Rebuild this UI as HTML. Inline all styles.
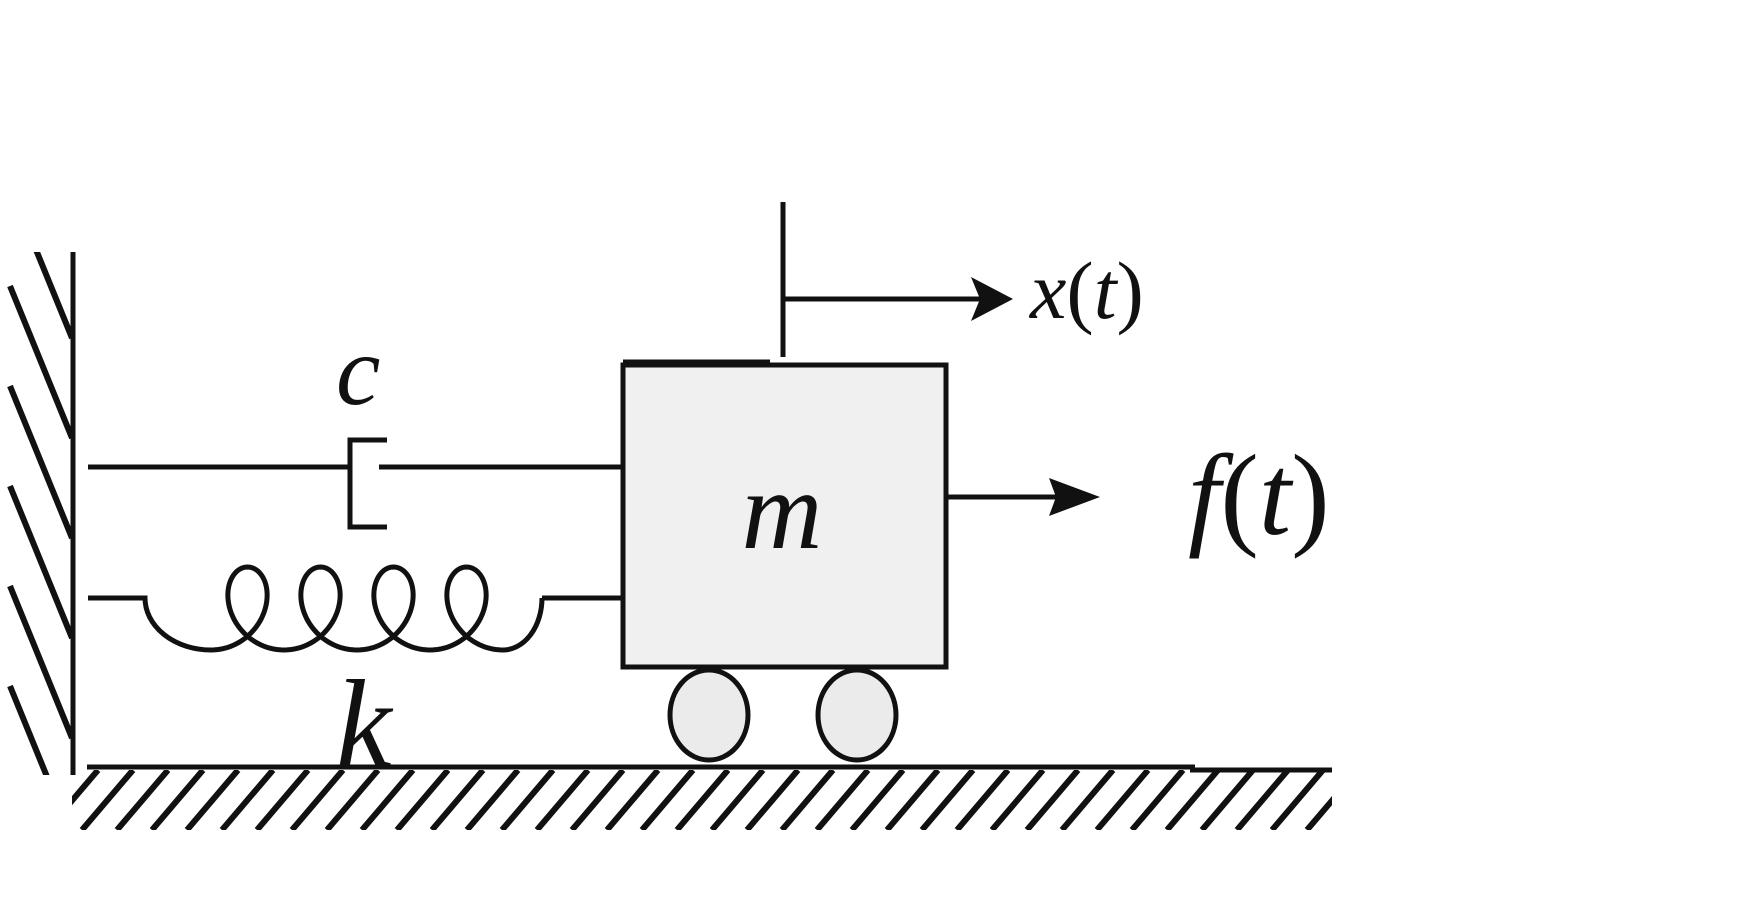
<!DOCTYPE html>
<html><head><meta charset="utf-8"><style>
html,body{margin:0;padding:0;background:#fff;}
svg{display:block}
text{font-family:"Liberation Serif",serif;font-style:italic;fill:#111}
tspan.n{font-style:normal}
</style></head><body>
<svg id="s" width="1760" height="903" viewBox="0 0 1760 903" xmlns="http://www.w3.org/2000/svg">
<defs>
<clipPath id="wc"><rect x="0" y="252" width="72" height="523"/></clipPath>
<clipPath id="gc"><rect x="72" y="770" width="1260" height="60"/></clipPath>
</defs>
<g stroke="#111" stroke-width="6" clip-path="url(#wc)" id="wall"></g>
<line x1="73" y1="252" x2="73" y2="775" stroke="#111" stroke-width="5"/>
<g stroke="#111" stroke-width="6" clip-path="url(#gc)" id="ground"></g>
<line x1="87" y1="767" x2="1195" y2="767" stroke="#111" stroke-width="5"/>
<line x1="1190" y1="770" x2="1332" y2="770" stroke="#111" stroke-width="5"/>
<g stroke="#111" stroke-width="5" fill="none">
<line x1="88" y1="467" x2="350" y2="467"/>
<polyline points="387,440 350,440 350,527 387,527"/>
<line x1="379" y1="467" x2="623" y2="467"/>
<path id="spring" stroke-width="5"/>
<line x1="542" y1="598" x2="623" y2="598"/>
</g>
<rect x="623" y="365" width="323" height="302" fill="#f0f0f0" stroke="#111" stroke-width="5"/>
<line x1="623" y1="362" x2="770" y2="362" stroke="#111" stroke-width="5"/>
<ellipse cx="709" cy="715" rx="39" ry="45" fill="#ebebeb" stroke="#111" stroke-width="5"/>
<ellipse cx="857" cy="715" rx="39" ry="45" fill="#ebebeb" stroke="#111" stroke-width="5"/>
<line x1="783" y1="202" x2="783" y2="357" stroke="#111" stroke-width="5"/>
<line x1="783" y1="299" x2="980" y2="299" stroke="#111" stroke-width="5"/>
<polygon points="971,277 1013,299 971,321 980,299" fill="#111"/>
<line x1="946" y1="497" x2="1060" y2="497" stroke="#111" stroke-width="5"/>
<polygon points="1049,478 1100,497 1049,516 1056,497" fill="#111"/>
<text x="1030" y="318" font-size="82">x<tspan class="n">(</tspan>t<tspan class="n">)</tspan></text>
<text x="1188" y="534" font-size="116">f<tspan class="n">(</tspan>t<tspan class="n">)</tspan></text>
<text x="336" y="404" font-size="100">c</text>
<text x="782" y="548" font-size="112" text-anchor="middle">m</text>
<text x="336" y="766" font-size="125">k</text>
</svg>
<script>
var ns="http://www.w3.org/2000/svg";
var w=document.getElementById('wall');
for(var y0=186;y0<800;y0+=100){var l=document.createElementNS(ns,'line');
l.setAttribute('x1',10);l.setAttribute('y1',y0);l.setAttribute('x2',72);l.setAttribute('y2',y0+152);w.appendChild(l);}
var g=document.getElementById('ground');
for(var x=47;x<1400;x+=35){var l=document.createElementNS(ns,'line');
l.setAttribute('x1',x);l.setAttribute('y1',830);l.setAttribute('x2',x+51);l.setAttribute('y2',770);g.appendChild(l);}
var d="M88 598 H145 A66 52 0 0 0 211 650";
var x0=211,p=73,Rx=36,Ry=41.5,yc=608.5;
for(var i=1;i<=400;i++){var t=i/400*8*Math.PI;
var x=x0+p*t/(2*Math.PI)+Rx*Math.sin(t);var y=yc+Ry*Math.cos(t);d+=" L"+x.toFixed(2)+" "+y.toFixed(2);}
d+=" A39 52 0 0 0 542 598";
document.getElementById('spring').setAttribute('d',d);
</script>
</body></html>
